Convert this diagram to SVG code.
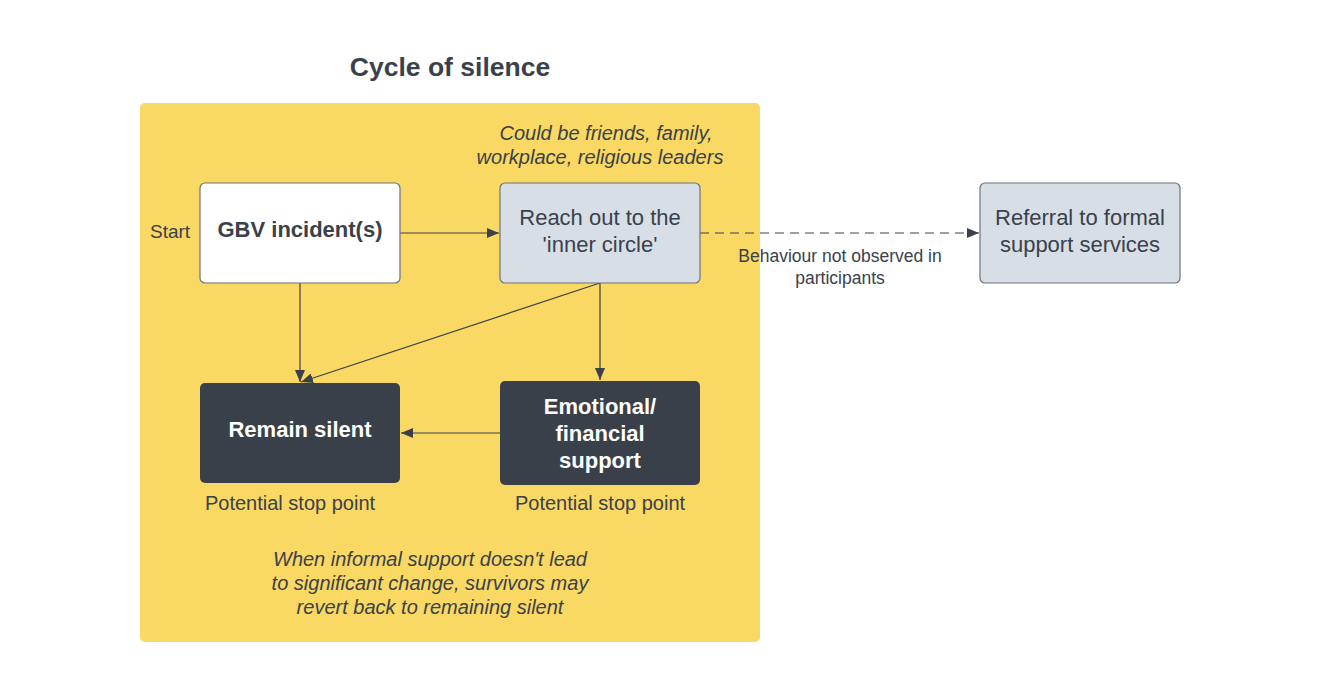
<svg xmlns="http://www.w3.org/2000/svg" width="1325" height="694" viewBox="0 0 1325 694">
<defs>
<style>
text{font-family:"Liberation Sans",Arial,sans-serif;fill:#3a414b}
.t{font-size:22px;text-anchor:middle}
.b{font-weight:bold}
.w{fill:#ffffff}
.s{font-size:20px}
.i{font-size:20px;font-style:italic;text-anchor:middle}
.c{stroke:#3a414b;stroke-width:1.2;fill:none}
.box{stroke:#6e737a;stroke-width:1.2}
</style>
<marker id="ah" viewBox="0 0 12 10" refX="12" refY="5" markerWidth="12" markerHeight="10" markerUnits="userSpaceOnUse" orient="auto">
<path d="M0,0 L12,5 L0,10 Z" fill="#3a414b"/>
</marker>
</defs>
<rect width="1325" height="694" fill="#ffffff"/>
<g id="container">
<rect x="140" y="103" width="620" height="539" rx="5" fill="#f9d863"/>
<text x="450" y="76" font-size="26.5" font-weight="bold" text-anchor="middle">Cycle of silence</text>
</g>
<g id="connectors">
<line class="c" x1="400" y1="233" x2="499" y2="233" marker-end="url(#ah)"/>
<line class="c" x1="300" y1="283" x2="300" y2="382" marker-end="url(#ah)"/>
<line class="c" x1="600" y1="283" x2="600" y2="380" marker-end="url(#ah)"/>
<line class="c" x1="600" y1="283" x2="301" y2="382" marker-end="url(#ah)"/>
<line class="c" x1="500" y1="433" x2="401" y2="433" marker-end="url(#ah)"/>
<line class="c" x1="700" y1="233" x2="979" y2="233" stroke-dasharray="9,6" marker-end="url(#ah)"/>
<text x="840" y="262" font-size="17.5" text-anchor="middle">Behaviour not observed in</text>
<text x="840" y="284" font-size="17.5" text-anchor="middle">participants</text>
</g>
<g id="start">
<text x="150" y="238" font-size="19">Start</text>
</g>
<g id="gbv">
<rect class="box" x="200" y="183" width="200" height="100" rx="5" fill="#ffffff"/>
<text class="t b" x="300" y="237">GBV incident(s)</text>
</g>
<g id="reach">
<rect class="box" x="500" y="183" width="200" height="100" rx="5" fill="#d8dee6"/>
<text class="t" x="600" y="225">Reach out to the</text>
<text class="t" x="600" y="252">'inner circle'</text>
</g>
<g id="inner-note">
<text class="i" x="606" y="140">Could be friends, family,</text>
<text class="i" x="600" y="164">workplace, religious leaders</text>
</g>
<g id="referral">
<rect class="box" x="980" y="183" width="200" height="100" rx="5" fill="#d8dee6"/>
<text class="t" x="1080" y="225">Referral to formal</text>
<text class="t" x="1080" y="252">support services</text>
</g>
<g id="silent">
<rect x="200" y="383" width="200" height="100" rx="5" fill="#3a404a"/>
<text class="t b w" x="300" y="437">Remain silent</text>
<text class="s" x="290" y="510" text-anchor="middle">Potential stop point</text>
</g>
<g id="emotional">
<rect x="500" y="381" width="200" height="104" rx="5" fill="#3a404a"/>
<text class="t b w" x="600" y="414">Emotional/</text>
<text class="t b w" x="600" y="441">financial</text>
<text class="t b w" x="600" y="468">support</text>
<text class="s" x="600" y="510" text-anchor="middle">Potential stop point</text>
</g>
<g id="bottom-note">
<text class="i" x="430" y="566">When informal support doesn't lead</text>
<text class="i" x="430" y="590">to significant change, survivors may</text>
<text class="i" x="430" y="614">revert back to remaining silent</text>
</g>
</svg>
